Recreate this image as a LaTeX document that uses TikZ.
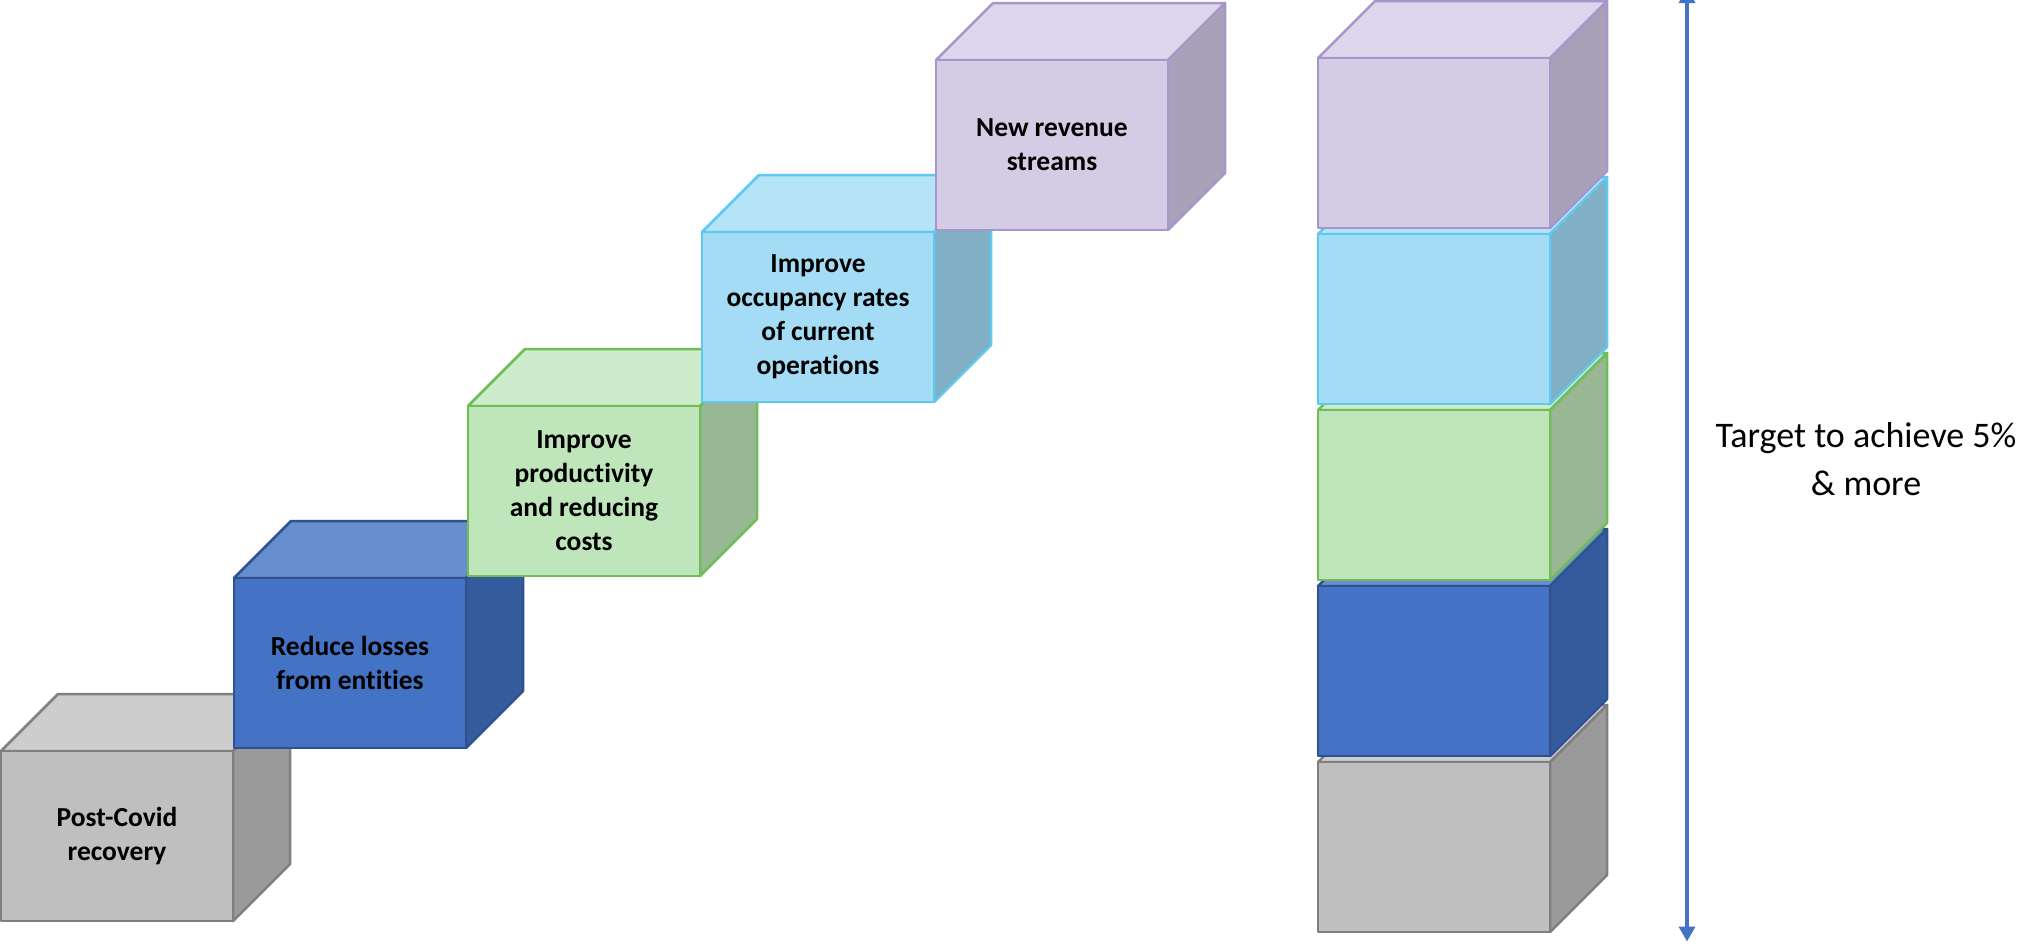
\documentclass[tikz,border=0pt]{standalone}
\usepackage{fontspec}
\setmainfont{Carlito}[Ligatures={NoCommon}]
\usetikzlibrary{arrows.meta}
\definecolor{grF}{RGB}{191,191,191}
\definecolor{grT}{RGB}{205,205,205}
\definecolor{grS}{RGB}{154,154,154}
\definecolor{grB}{RGB}{127,127,127}
\definecolor{blF}{RGB}{68,114,196}
\definecolor{blT}{RGB}{105,142,208}
\definecolor{blS}{RGB}{53,93,158}
\definecolor{blB}{RGB}{47,82,143}
\definecolor{gnF}{RGB}{191,230,187}
\definecolor{gnT}{RGB}{205,236,203}
\definecolor{gnS}{RGB}{152,183,149}
\definecolor{gnB}{RGB}{110,190,85}
\definecolor{cyF}{RGB}{164,220,245}
\definecolor{cyT}{RGB}{181,228,247}
\definecolor{cyS}{RGB}{129,175,197}
\definecolor{cyB}{RGB}{94,200,240}
\definecolor{puF}{RGB}{212,203,229}
\definecolor{puT}{RGB}{222,214,236}
\definecolor{puS}{RGB}{169,161,186}
\definecolor{puB}{RGB}{166,151,200}
\definecolor{arrowblue}{RGB}{68,114,196}
\tikzset{
  face/.style={line width=2.5pt, line join=round},
  boxtext/.style={font=\bfseries\fontsize{27.5}{34}\selectfont, align=center, text=black},
  targettext/.style={font=\fontsize{36}{48}\selectfont, align=center, text=black},
  measure/.style={draw=arrowblue, line width=3.5pt, {Triangle[width=16pt,length=15pt]}-{Triangle[width=16pt,length=15pt]}}
}
% #1 x, #2 y (top-left of front face), #3 colour prefix
\newcommand{\mycube}[3]{%
  \filldraw[face, draw=#3B, fill=#3T] (#1,#2) -- ++(57,-57) -- ++(232,0) -- ++(-57,57) -- cycle;
  \filldraw[face, draw=#3B, fill=#3S] (#1+232,#2) -- ++(57,-57) -- ++(0,170) -- ++(-57,57) -- cycle;
  \filldraw[face, draw=#3B, fill=#3F] (#1,#2) rectangle ++(232,170);
}
\begin{document}
\begin{tikzpicture}[x=1pt, y=-1pt]
\clip (0,0) rectangle (2033,943);
\fill[white] (0,0) rectangle (2033,943);
% staircase
\mycube{1}{751}{gr}
\node[boxtext] (s1) at (117,836) {Post-Covid\\recovery};
\mycube{234}{578}{bl}
\node[boxtext] (s2) at (350,663) {Reduce losses\\from entities};
\mycube{468}{406}{gn}
\node[boxtext] (s3) at (584,491) {Improve\\productivity\\and reducing\\costs};
\mycube{702}{232}{cy}
\node[boxtext] (s4) at (818,317) {Improve\\occupancy rates\\of current\\operations};
\mycube{936}{60}{pu}
\node[boxtext] (s5) at (1052,145) {New revenue\\streams};
% stack
\mycube{1318}{762}{gr}
\mycube{1318}{586}{bl}
\mycube{1318}{410}{gn}
\mycube{1318}{234}{cy}
\mycube{1318}{58}{pu}
% arrow
\coordinate (atop) at (1687,-12);
\coordinate (abot) at (1687,941.5);
\draw[measure] (atop) -- (abot);
\node[targettext] (target) at (1866,459) {Target to achieve 5\%\\\& more};
\end{tikzpicture}
\end{document}
